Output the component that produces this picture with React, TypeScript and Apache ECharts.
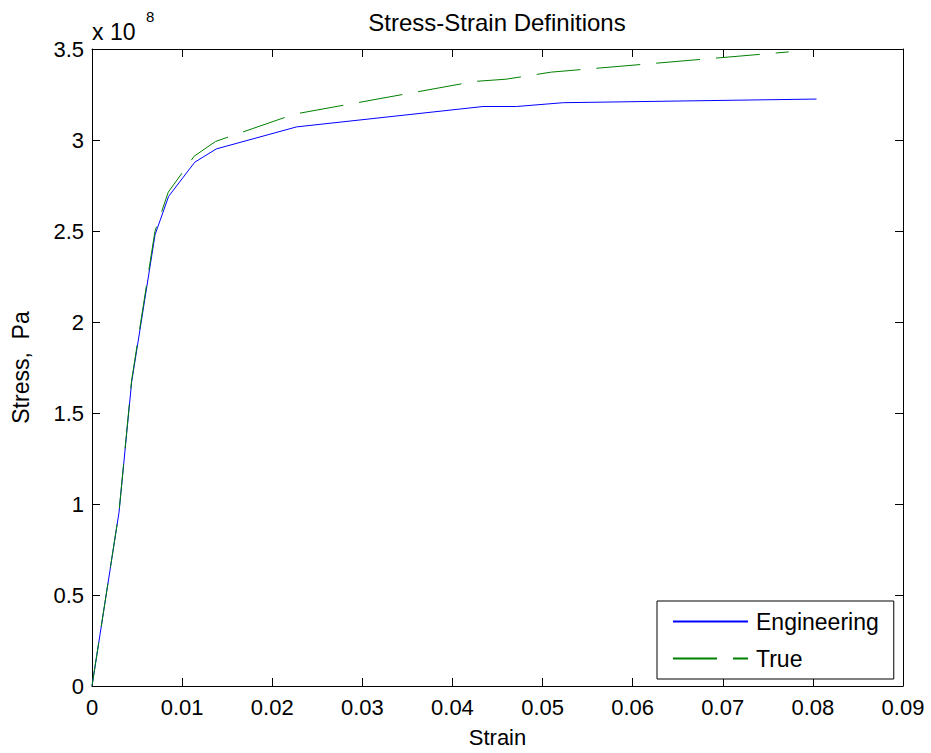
import React, { useEffect, useRef } from "react";
import * as echarts from "echarts";

// Engineering stress-strain (strain, stress in Pa)
const engStrain = [0, 0.003, 0.0044, 0.007, 0.0085, 0.0114, 0.0138, 0.0227, 0.0434, 0.0471, 0.0523, 0.0804];
const engStress = [0, 0.955e8, 1.67e8, 2.48e8, 2.69e8, 2.878e8, 2.951e8, 3.072e8, 3.184e8, 3.184e8, 3.205e8, 3.225e8];

// True stress-strain
const trueStrain = [0, 0.003, 0.00439, 0.00698, 0.00846, 0.01134, 0.01371, 0.02245, 0.04249, 0.04593, 0.05098, 0.07732];
const trueStress = [0, 0.958e8, 1.677e8, 2.497e8, 2.713e8, 2.911e8, 2.992e8, 3.142e8, 3.322e8, 3.334e8, 3.373e8, 3.484e8];

const seriesNames = ["Engineering", "True"];
const titleText = "Stress-Strain Definitions";
const xName = "Strain";
const yName = "Stress,  Pa";

const FONT = "'Liberation Sans', Arial, sans-serif";

export default function App() {
  const ref = useRef<HTMLDivElement>(null);
  useEffect(() => {
    if (!ref.current) return;
    const chart = echarts.init(ref.current, undefined, { renderer: "svg" });
    const xMin = 0, xMax = 0.09, xInt = 0.01;
    const yMin = 0, yMax = 3.5e8, yInt = 0.5e8;
    const xFmt = (v: number) => String(+v.toFixed(2));
    const yFmt = (v: number) => String(+(v / 1e8).toFixed(1));
    const tickCommon = { show: true, inside: true, length: 8, lineStyle: { color: "#000", width: 1 } };
    const lineCommon = { show: true, onZero: false, lineStyle: { color: "#000", width: 1 } };
    chart.setOption({
      animation: false,
      textStyle: { fontFamily: FONT },
      grid: { left: 92, top: 49, right: 28, bottom: 64, containLabel: false },
      xAxis: [
        {
          type: "value", min: xMin, max: xMax, interval: xInt, position: "bottom",
          axisLine: lineCommon, axisTick: tickCommon, splitLine: { show: false },
          axisLabel: { formatter: xFmt, color: "#000", fontSize: 22, margin: 10, fontFamily: FONT },
          name: xName, nameLocation: "middle", nameGap: 40,
          nameTextStyle: { color: "#000", fontSize: 22, fontFamily: FONT },
        },
        {
          type: "value", min: xMin, max: xMax, interval: xInt, position: "top",
          axisLine: lineCommon, axisTick: tickCommon, splitLine: { show: false },
          axisLabel: { show: false },
        },
      ],
      yAxis: [
        {
          type: "value", min: yMin, max: yMax, interval: yInt, position: "left",
          axisLine: lineCommon, axisTick: tickCommon, splitLine: { show: false },
          axisLabel: { formatter: yFmt, color: "#000", fontSize: 22, margin: 8, fontFamily: FONT },
          name: yName, nameLocation: "middle", nameGap: 60, nameRotate: 90,
          nameTextStyle: { color: "#000", fontSize: 23, fontFamily: FONT },
        },
        {
          type: "value", min: yMin, max: yMax, interval: yInt, position: "right",
          axisLine: lineCommon, axisTick: tickCommon, splitLine: { show: false },
          axisLabel: { show: false },
        },
      ],
      legend: {
        orient: "vertical",
        left: 657,
        top: 601,
        padding: [9, 15, 9, 15],
        itemGap: 14,
        itemWidth: 75,
        itemHeight: 22,
        borderColor: "#000",
        borderWidth: 1,
        backgroundColor: "#fff",
        itemStyle: { opacity: 0 },
        textStyle: { color: "#000", fontSize: 23, fontFamily: FONT, padding: [0, 0, 0, 3] },
        data: seriesNames,
      },
      graphic: [
        {
          type: "text", x: 497, y: 22,
          style: { text: titleText, fill: "#000", font: `24px ${FONT}`, textAlign: "center", textVerticalAlign: "middle" },
        },
        {
          type: "text", x: 92, y: 32,
          style: { text: "x 10", fill: "#000", font: `23px ${FONT}`, textAlign: "left", textVerticalAlign: "middle" },
        },
        {
          type: "text", x: 146, y: 16,
          style: { text: "8", fill: "#000", font: `15px ${FONT}`, textAlign: "left", textVerticalAlign: "middle" },
        },
      ],
      series: [
        {
          name: seriesNames[0], type: "line", symbol: "none", showSymbol: false,
          xAxisIndex: 0, yAxisIndex: 0,
          lineStyle: { color: "#0000ff", width: 1 }, itemStyle: { color: "#0000ff" },
          data: engStrain.map((x, i) => [x, engStress[i]]),
        },
        {
          name: seriesNames[1], type: "line", symbol: "none", showSymbol: false,
          xAxisIndex: 0, yAxisIndex: 0,
          lineStyle: { color: "#008000", width: 1, type: [44, 16] }, itemStyle: { color: "#008000" },
          data: trueStrain.map((x, i) => [x, trueStress[i]]),
        },
      ],
    });
    return () => chart.dispose();
  }, []);
  return <div ref={ref} style={{ width: 931, height: 753, position: "absolute", left: 0, top: 0, background: "#fff" }} />;
}
